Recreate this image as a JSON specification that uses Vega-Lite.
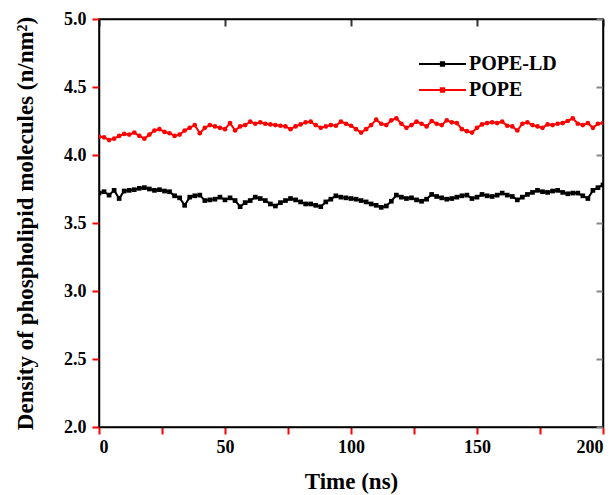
{
  "$schema": "https://vega.github.io/schema/vega-lite/v6.json",
  "width": 504,
  "height": 408,
  "autosize": {"type": "none"},
  "padding": {"left": 99, "top": 19, "right": 13, "bottom": 68},
  "background": "white",
  "config": {
    "font": "Liberation Serif",
    "view": {"stroke": "black", "strokeWidth": 1.5},
    "axis": {"grid": false, "domainColor": "black", "domainWidth": 1.5,
      "labelFont": "Liberation Serif", "labelFontWeight": "bold", "labelFontSize": 18, "labelColor": "black",
      "titleFont": "Liberation Serif", "titleFontWeight": "bold", "titleFontSize": 23, "titleColor": "black"}
  },
  "data": {"values": [
    {"t":0,"v":4.135,"series":"POPE"},{"t":2,"v":4.13,"series":"POPE"},{"t":4,"v":4.11,"series":"POPE"},{"t":6,"v":4.12,"series":"POPE"},{"t":8,"v":4.14,"series":"POPE"},{"t":10,"v":4.155,"series":"POPE"},{"t":12,"v":4.15,"series":"POPE"},{"t":14,"v":4.165,"series":"POPE"},{"t":16,"v":4.14,"series":"POPE"},{"t":18,"v":4.12,"series":"POPE"},
    {"t":20,"v":4.15,"series":"POPE"},{"t":22,"v":4.18,"series":"POPE"},{"t":24,"v":4.19,"series":"POPE"},{"t":26,"v":4.17,"series":"POPE"},{"t":28,"v":4.16,"series":"POPE"},{"t":30,"v":4.14,"series":"POPE"},{"t":32,"v":4.15,"series":"POPE"},{"t":34,"v":4.18,"series":"POPE"},{"t":36,"v":4.2,"series":"POPE"},{"t":38,"v":4.22,"series":"POPE"},
    {"t":40,"v":4.16,"series":"POPE"},{"t":42,"v":4.2,"series":"POPE"},{"t":44,"v":4.22,"series":"POPE"},{"t":46,"v":4.21,"series":"POPE"},{"t":48,"v":4.2,"series":"POPE"},{"t":50,"v":4.19,"series":"POPE"},{"t":52,"v":4.235,"series":"POPE"},{"t":54,"v":4.18,"series":"POPE"},{"t":56,"v":4.21,"series":"POPE"},{"t":58,"v":4.22,"series":"POPE"},
    {"t":60,"v":4.245,"series":"POPE"},{"t":62,"v":4.23,"series":"POPE"},{"t":64,"v":4.24,"series":"POPE"},{"t":66,"v":4.23,"series":"POPE"},{"t":68,"v":4.225,"series":"POPE"},{"t":70,"v":4.22,"series":"POPE"},{"t":72,"v":4.215,"series":"POPE"},{"t":74,"v":4.21,"series":"POPE"},{"t":76,"v":4.19,"series":"POPE"},{"t":78,"v":4.21,"series":"POPE"},
    {"t":80,"v":4.225,"series":"POPE"},{"t":82,"v":4.24,"series":"POPE"},{"t":84,"v":4.245,"series":"POPE"},{"t":86,"v":4.22,"series":"POPE"},{"t":88,"v":4.2,"series":"POPE"},{"t":90,"v":4.21,"series":"POPE"},{"t":92,"v":4.22,"series":"POPE"},{"t":94,"v":4.215,"series":"POPE"},{"t":96,"v":4.245,"series":"POPE"},{"t":98,"v":4.23,"series":"POPE"},
    {"t":100,"v":4.215,"series":"POPE"},{"t":102,"v":4.19,"series":"POPE"},{"t":104,"v":4.165,"series":"POPE"},{"t":106,"v":4.19,"series":"POPE"},{"t":108,"v":4.22,"series":"POPE"},{"t":110,"v":4.26,"series":"POPE"},{"t":112,"v":4.23,"series":"POPE"},{"t":114,"v":4.22,"series":"POPE"},{"t":116,"v":4.255,"series":"POPE"},{"t":118,"v":4.27,"series":"POPE"},
    {"t":120,"v":4.23,"series":"POPE"},{"t":122,"v":4.2,"series":"POPE"},{"t":124,"v":4.22,"series":"POPE"},{"t":126,"v":4.245,"series":"POPE"},{"t":128,"v":4.23,"series":"POPE"},{"t":130,"v":4.21,"series":"POPE"},{"t":132,"v":4.25,"series":"POPE"},{"t":134,"v":4.23,"series":"POPE"},{"t":136,"v":4.22,"series":"POPE"},{"t":138,"v":4.255,"series":"POPE"},
    {"t":140,"v":4.24,"series":"POPE"},{"t":142,"v":4.235,"series":"POPE"},{"t":144,"v":4.19,"series":"POPE"},{"t":146,"v":4.175,"series":"POPE"},{"t":148,"v":4.165,"series":"POPE"},{"t":150,"v":4.2,"series":"POPE"},{"t":152,"v":4.225,"series":"POPE"},{"t":154,"v":4.235,"series":"POPE"},{"t":156,"v":4.24,"series":"POPE"},{"t":158,"v":4.235,"series":"POPE"},
    {"t":160,"v":4.245,"series":"POPE"},{"t":162,"v":4.215,"series":"POPE"},{"t":164,"v":4.21,"series":"POPE"},{"t":166,"v":4.18,"series":"POPE"},{"t":168,"v":4.23,"series":"POPE"},{"t":170,"v":4.24,"series":"POPE"},{"t":172,"v":4.22,"series":"POPE"},{"t":174,"v":4.21,"series":"POPE"},{"t":176,"v":4.2,"series":"POPE"},{"t":178,"v":4.225,"series":"POPE"},
    {"t":180,"v":4.22,"series":"POPE"},{"t":182,"v":4.23,"series":"POPE"},{"t":184,"v":4.235,"series":"POPE"},{"t":186,"v":4.25,"series":"POPE"},{"t":188,"v":4.27,"series":"POPE"},{"t":190,"v":4.23,"series":"POPE"},{"t":192,"v":4.22,"series":"POPE"},{"t":194,"v":4.235,"series":"POPE"},{"t":196,"v":4.2,"series":"POPE"},{"t":198,"v":4.23,"series":"POPE"},
    {"t":200,"v":4.235,"series":"POPE"},
    {"t":0,"v":3.72,"series":"POPE-LD"},{"t":2,"v":3.73,"series":"POPE-LD"},{"t":4,"v":3.705,"series":"POPE-LD"},{"t":6,"v":3.74,"series":"POPE-LD"},{"t":8,"v":3.68,"series":"POPE-LD"},{"t":10,"v":3.735,"series":"POPE-LD"},{"t":12,"v":3.74,"series":"POPE-LD"},{"t":14,"v":3.745,"series":"POPE-LD"},{"t":16,"v":3.755,"series":"POPE-LD"},{"t":18,"v":3.76,"series":"POPE-LD"},
    {"t":20,"v":3.75,"series":"POPE-LD"},{"t":22,"v":3.74,"series":"POPE-LD"},{"t":24,"v":3.745,"series":"POPE-LD"},{"t":26,"v":3.735,"series":"POPE-LD"},{"t":28,"v":3.73,"series":"POPE-LD"},{"t":30,"v":3.7,"series":"POPE-LD"},{"t":32,"v":3.685,"series":"POPE-LD"},{"t":34,"v":3.63,"series":"POPE-LD"},{"t":36,"v":3.69,"series":"POPE-LD"},{"t":38,"v":3.7,"series":"POPE-LD"},
    {"t":40,"v":3.705,"series":"POPE-LD"},{"t":42,"v":3.665,"series":"POPE-LD"},{"t":44,"v":3.67,"series":"POPE-LD"},{"t":46,"v":3.675,"series":"POPE-LD"},{"t":48,"v":3.69,"series":"POPE-LD"},{"t":50,"v":3.67,"series":"POPE-LD"},{"t":52,"v":3.685,"series":"POPE-LD"},{"t":54,"v":3.665,"series":"POPE-LD"},{"t":56,"v":3.62,"series":"POPE-LD"},{"t":58,"v":3.65,"series":"POPE-LD"},
    {"t":60,"v":3.665,"series":"POPE-LD"},{"t":62,"v":3.69,"series":"POPE-LD"},{"t":64,"v":3.68,"series":"POPE-LD"},{"t":66,"v":3.665,"series":"POPE-LD"},{"t":68,"v":3.64,"series":"POPE-LD"},{"t":70,"v":3.625,"series":"POPE-LD"},{"t":72,"v":3.65,"series":"POPE-LD"},{"t":74,"v":3.665,"series":"POPE-LD"},{"t":76,"v":3.68,"series":"POPE-LD"},{"t":78,"v":3.67,"series":"POPE-LD"},
    {"t":80,"v":3.655,"series":"POPE-LD"},{"t":82,"v":3.64,"series":"POPE-LD"},{"t":84,"v":3.64,"series":"POPE-LD"},{"t":86,"v":3.63,"series":"POPE-LD"},{"t":88,"v":3.62,"series":"POPE-LD"},{"t":90,"v":3.655,"series":"POPE-LD"},{"t":92,"v":3.675,"series":"POPE-LD"},{"t":94,"v":3.7,"series":"POPE-LD"},{"t":96,"v":3.69,"series":"POPE-LD"},{"t":98,"v":3.685,"series":"POPE-LD"},
    {"t":100,"v":3.68,"series":"POPE-LD"},{"t":102,"v":3.675,"series":"POPE-LD"},{"t":104,"v":3.665,"series":"POPE-LD"},{"t":106,"v":3.655,"series":"POPE-LD"},{"t":108,"v":3.64,"series":"POPE-LD"},{"t":110,"v":3.63,"series":"POPE-LD"},{"t":112,"v":3.615,"series":"POPE-LD"},{"t":114,"v":3.625,"series":"POPE-LD"},{"t":116,"v":3.66,"series":"POPE-LD"},{"t":118,"v":3.705,"series":"POPE-LD"},
    {"t":120,"v":3.69,"series":"POPE-LD"},{"t":122,"v":3.68,"series":"POPE-LD"},{"t":124,"v":3.685,"series":"POPE-LD"},{"t":126,"v":3.67,"series":"POPE-LD"},{"t":128,"v":3.66,"series":"POPE-LD"},{"t":130,"v":3.675,"series":"POPE-LD"},{"t":132,"v":3.71,"series":"POPE-LD"},{"t":134,"v":3.695,"series":"POPE-LD"},{"t":136,"v":3.685,"series":"POPE-LD"},{"t":138,"v":3.675,"series":"POPE-LD"},
    {"t":140,"v":3.68,"series":"POPE-LD"},{"t":142,"v":3.69,"series":"POPE-LD"},{"t":144,"v":3.7,"series":"POPE-LD"},{"t":146,"v":3.705,"series":"POPE-LD"},{"t":148,"v":3.68,"series":"POPE-LD"},{"t":150,"v":3.69,"series":"POPE-LD"},{"t":152,"v":3.71,"series":"POPE-LD"},{"t":154,"v":3.7,"series":"POPE-LD"},{"t":156,"v":3.695,"series":"POPE-LD"},{"t":158,"v":3.705,"series":"POPE-LD"},
    {"t":160,"v":3.72,"series":"POPE-LD"},{"t":162,"v":3.705,"series":"POPE-LD"},{"t":164,"v":3.695,"series":"POPE-LD"},{"t":166,"v":3.67,"series":"POPE-LD"},{"t":168,"v":3.69,"series":"POPE-LD"},{"t":170,"v":3.71,"series":"POPE-LD"},{"t":172,"v":3.725,"series":"POPE-LD"},{"t":174,"v":3.74,"series":"POPE-LD"},{"t":176,"v":3.73,"series":"POPE-LD"},{"t":178,"v":3.725,"series":"POPE-LD"},
    {"t":180,"v":3.735,"series":"POPE-LD"},{"t":182,"v":3.74,"series":"POPE-LD"},{"t":184,"v":3.725,"series":"POPE-LD"},{"t":186,"v":3.715,"series":"POPE-LD"},{"t":188,"v":3.72,"series":"POPE-LD"},{"t":190,"v":3.72,"series":"POPE-LD"},{"t":192,"v":3.7,"series":"POPE-LD"},{"t":194,"v":3.68,"series":"POPE-LD"},{"t":196,"v":3.74,"series":"POPE-LD"},{"t":198,"v":3.76,"series":"POPE-LD"},
    {"t":200,"v":3.78,"series":"POPE-LD"}
  ]},
  "layer": [
    {
      "mark": {"type": "line", "strokeWidth": 2, "clip": true},
      "encoding": {
        "x": {"field": "t", "type": "quantitative", "title": "Time (ns)",
          "scale": {"domain": [0, 200], "nice": false, "zero": false},
          "axis": {"orient": "bottom", "values": [0,25,50,75,100,125,150,175,200],
            "labelExpr": "datum.value % 50 === 0 ? datum.label : ''",
            "tickSize": 7, "tickColor": "red", "tickWidth": 2,
            "labelPadding": 4, "titlePadding": 14}},
        "y": {"field": "v", "type": "quantitative", "title": "Density of phospholipid molecules (n/nm²)",
          "scale": {"domain": [2, 5], "nice": false, "zero": false},
          "axis": {"orient": "left", "tickCount": 6, "format": ".1f",
            "tickSize": 7, "tickColor": "red", "tickWidth": 2,
            "labelPadding": 6, "titlePadding": 26}},
        "color": {"field": "series", "type": "nominal",
          "scale": {"domain": ["POPE-LD", "POPE"], "range": ["#000000", "#ff0000"]},
          "legend": {"title": null, "orient": "none", "legendX": 319, "legendY": 32,
            "symbolType": "M-1,0H1M-0.07,-0.07H0.07V0.07H-0.07Z", "symbolSize": 2209,
            "symbolStrokeWidth": 2, "clipHeight": 26, "rowPadding": 0, "padding": 0,
            "labelFont": "Liberation Serif", "labelFontWeight": "bold", "labelFontSize": 20,
            "labelColor": "black", "labelOffset": 2}}
      }
    },
    {
      "mark": {"type": "point", "filled": true, "opacity": 1, "size": 22, "clip": true},
      "encoding": {
        "x": {"field": "t", "type": "quantitative",
          "scale": {"domain": [0, 200], "nice": false, "zero": false},
          "axis": {"orient": "top", "title": null, "labels": false, "tickCount": 4,
            "tickSize": -7, "tickColor": "#333333", "tickWidth": 2}},
        "y": {"field": "v", "type": "quantitative",
          "scale": {"domain": [2, 5], "nice": false, "zero": false},
          "axis": {"orient": "right", "title": null, "labels": false, "tickCount": 6,
            "tickSize": -7, "tickWidth": 2}},
        "color": {"condition": {"test": "datum.series === 'POPE'", "value": "#ff0000"}, "value": "#000000"},
        "shape": {"condition": {"test": "datum.series === 'POPE'", "value": "circle"}, "value": "square"}
      }
    }
  ],
  "resolve": {"axis": {"x": "independent", "y": "independent"}}
}
